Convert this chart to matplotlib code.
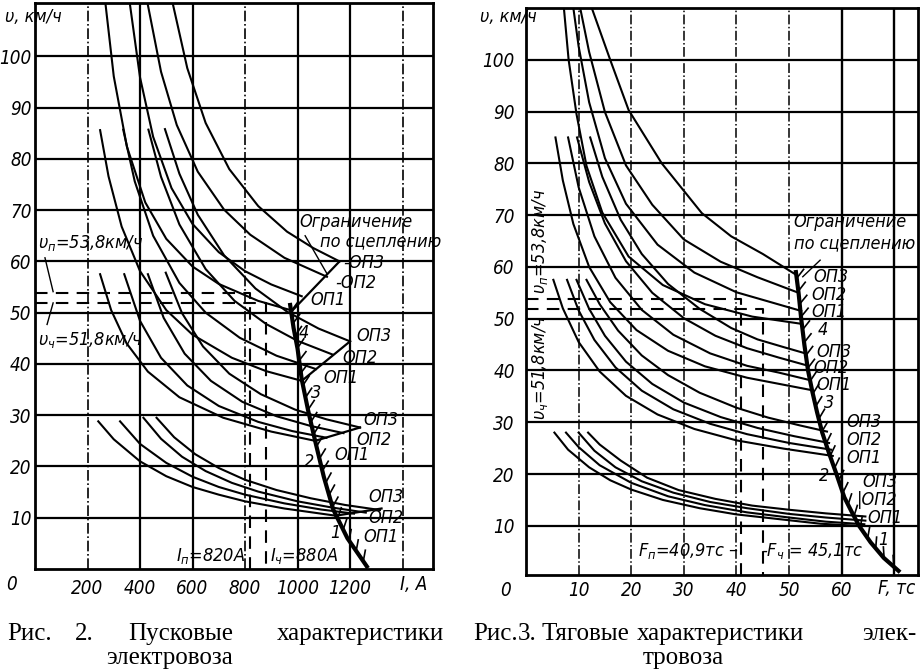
import matplotlib
matplotlib.use("Agg")
import matplotlib.pyplot as plt
from matplotlib import patheffects

plt.rcParams['font.family'] = ['DejaVu Sans']
plt.rcParams['font.stretch'] = 'condensed'
plt.rcParams['mathtext.fontset'] = 'dejavusans'

# ---------------- Fig. 2: starting characteristics v(I) ----------------
# group 4 (full field, OP1, OP2, OP3)
I4 = [[269, 300, 350, 420, 500, 600, 700, 850, 980],
      [362, 400, 450, 520, 600, 700, 800, 900, 1016],
      [430, 480, 540, 620, 720, 820, 950, 1112],
      [526, 580, 650, 740, 850, 960, 1060, 1160]]
v4 = [[110, 96.1, 82.4, 71.5, 64.4, 59.0, 55.6, 52.3, 50.4],
      [110, 95.9, 84.3, 74.3, 67.3, 61.8, 58.1, 55.5, 53.2],
      [110, 97.0, 86.6, 77.5, 70.1, 65.2, 60.7, 57.0],
      [110, 97.7, 87.0, 78.0, 70.8, 65.8, 62.6, 60.0]]
# group 3
I3 = [[248, 280, 330, 400, 500, 600, 750, 880, 1016],
      [336, 380, 450, 550, 650, 780, 920, 1070],
      [432, 480, 550, 650, 760, 880, 1000, 1135],
      [495, 550, 620, 720, 840, 960, 1080, 1200]]
v3 = [[85.6, 76.6, 66.8, 58.1, 50.5, 45.7, 41.2, 38.6, 36.7],
      [85.7, 75.6, 65.0, 55.8, 50.0, 45.1, 41.6, 39.0],
      [85.7, 76.5, 67.2, 58.5, 52.3, 47.8, 44.5, 41.8],
      [85.8, 77.1, 69.1, 61.2, 54.7, 50.2, 46.9, 44.4]]
# group 2
I2 = [[248, 290, 349, 430, 550, 717, 900, 1067],
      [340, 400, 480, 580, 700, 850, 980, 1110],
      [430, 490, 570, 670, 790, 920, 1050, 1175],
      [498, 560, 640, 740, 860, 990, 1110, 1238]]
v2 = [[57.5, 50.5, 44.0, 38.5, 33.5, 29.5, 26.8, 25.0],
      [57.5, 48.4, 41.2, 35.8, 31.8, 28.7, 26.9, 25.6],
      [57.5, 49.0, 42.0, 36.7, 32.6, 29.8, 27.9, 26.5],
      [57.8, 49.9, 43.4, 38.1, 34.1, 31.1, 29.2, 27.6]]
# group 1
I1 = [[241, 300, 400, 500, 600, 700, 800, 950, 1145],
      [324, 400, 500, 600, 700, 800, 950, 1090, 1215],
      [413, 480, 560, 650, 750, 850, 1000, 1130, 1260],
      [463, 530, 610, 700, 800, 920, 1050, 1180, 1314]]
v1 = [[28.8, 25.3, 21.0, 18.1, 16.0, 14.5, 13.2, 11.8, 10.4],
      [28.8, 24.4, 20.7, 18.0, 16.0, 14.5, 12.8, 11.6, 10.8],
      [29.5, 25.4, 21.9, 19.1, 16.8, 15.1, 13.2, 12.0, 11.0],
      [29.5, 25.7, 22.4, 19.7, 17.4, 15.4, 13.8, 12.5, 11.5]]
# adhesion limit
I_lim = [972, 985, 1000, 1016, 1040, 1067, 1100, 1136, 1190, 1264]
v_lim = [51.5, 47, 43, 37, 31, 25, 18, 11.6, 6, 0.5]
# lines joining the ends of the weakened-field curves
I_tie = [[980, 1160], [1016, 1200], [1067, 1238], [1145, 1320]]
v_tie = [[50.4, 60.0], [36.7, 44.4], [25.0, 27.6], [10.4, 11.8]]
v_p, v_ch = 53.8, 51.8
I_p, I_ch = 820, 880

I_ticks = [200, 400, 600, 800, 1000, 1200]
I_grid = [200, 400, 600, 800, 1000, 1200, 1400]
I_grid_ls = ['-.', '-', '-', '-.', '-', '-', '-.']
v_ticks = [10, 20, 30, 40, 50, 60, 70, 80, 90, 100]

# ---------------- Fig. 3: traction characteristics v(F) ----------------
F4 = [[7.2, 8.1, 9.6, 11.5, 14.5, 19.5, 26, 34, 43, 52.4],
      [9.0, 10, 12, 15, 19, 25, 32, 40, 52.3],
      [10.3, 12, 15, 19, 24, 30, 37, 44, 51.8],
      [12.5, 16, 19.5, 25.8, 33.4, 39, 45, 51.3]]
w4 = [[110, 100, 89.5, 79.5, 70.5, 62, 56.5, 52.8, 50.4, 49.0],
      [110, 102.6, 91.8, 81.0, 72.2, 64.3, 58.9, 55.1, 51.5],
      [110, 101.5, 89.9, 79.6, 72.0, 65.3, 61.0, 58.0, 55.0],
      [110, 100, 90.3, 80.0, 70.4, 65.9, 62.5, 58.5]]
F3 = [[5.6, 7, 9, 12, 16, 21, 27, 34, 42, 54.3],
      [8, 10, 13, 17, 22, 28, 35, 42, 48, 53.7],
      [9.7, 12, 15, 19, 24, 30, 36, 42, 48, 53.3],
      [12.2, 14.5, 18, 22, 27, 33, 39, 44, 49, 53.1]]
w3 = [[85, 76.7, 68.3, 60.0, 53.2, 47.8, 43.8, 40.8, 38.6, 36.2],
      [85, 75.4, 65.9, 57.9, 51.7, 46.9, 43.3, 40.9, 39.6, 38.2],
      [85, 76.4, 68.4, 61.1, 55.0, 50.1, 46.7, 44.3, 42.5, 41.0],
      [85, 77.4, 69.1, 62.5, 56.7, 51.9, 48.2, 46.0, 44.5, 43.3]]
F2 = [[5.2, 7, 10, 14, 19, 25, 32, 40, 49, 58.3],
      [7.8, 10, 13, 17, 22, 28, 35, 42, 50, 58],
      [9.6, 12, 15, 19, 24, 30, 37, 44, 51, 57.6],
      [11.5, 14, 17.5, 22, 27, 33, 40, 46, 52, 57.2]]
w2 = [[57.5, 52.0, 45.5, 39.8, 35.1, 31.5, 28.7, 26.5, 24.9, 23.5],
      [57.5, 51.6, 45.9, 40.6, 36.1, 32.5, 29.7, 27.7, 26.0, 24.7],
      [57.5, 51.9, 46.7, 41.7, 37.4, 33.8, 31.0, 28.9, 27.3, 26.0],
      [57.5, 52.8, 47.7, 42.9, 39.1, 35.7, 32.8, 30.9, 29.4, 28.2]]
F1 = [[5.4, 8, 12, 16, 20, 26, 33, 40, 48, 56, 63],
      [7.6, 10, 14, 20, 27, 34, 42, 50, 57, 64.3],
      [10, 13, 17, 22, 28, 35, 42, 50, 57, 64.5],
      [11.8, 14, 18, 23, 29, 36, 43, 50, 57, 64.5]]
w1 = [[28, 24.7, 21.3, 18.8, 17.0, 15.0, 13.4, 12.2, 11.3, 10.4, 10.0],
      [28, 25.2, 21.7, 18.3, 15.7, 14.0, 12.6, 11.6, 10.8, 10.3],
      [28, 24.5, 21.3, 18.6, 16.4, 14.6, 13.4, 12.3, 11.6, 11.0],
      [28, 25.7, 22.6, 19.3, 16.9, 15.2, 13.9, 13.1, 12.4, 11.8]]
F_lim = [51.3, 51.8, 52.3, 52.9, 53.6, 54.4, 55.3, 56.3, 57.6, 59, 60.5, 62, 63.3, 65.5, 68, 70.8]
w_lim = [59, 55, 50, 45, 40, 36, 32, 28, 24, 20, 15.5, 12.5, 10, 6.8, 3.8, 1.3]
F_p, F_ch = 40.9, 45.1

F_ticks = [10, 20, 30, 40, 50, 60]
F_grid = [10, 20, 30, 40, 50, 60, 70]
F_grid_ls = ['-.', '-.', '-.', '-.', '-.', '-', '-']

ital = dict(style='italic', fontsize=13)
tickf = dict(style='italic', fontsize=13.5)

fig = plt.figure(figsize=(9.23, 6.70), dpi=100)
ax1 = fig.add_axes([35 / 923, 101 / 670, 398 / 923, 566 / 670])
ax2 = fig.add_axes([526 / 923, 95 / 670, 392 / 923, 567 / 670])

hatch = [patheffects.withTickedStroke(angle=135, spacing=9, length=0.9, linewidth=1.2)]

# ---- left panel ----
ax1.set_xlim(0, 1516)
ax1.set_ylim(0, 110.4)
for y in v_ticks:
    ax1.axhline(y, color='k', lw=1.6, zorder=1)
for x, ls in zip(I_grid, I_grid_ls):
    ax1.axvline(x, color='k', lw=1.6 if ls == '-' else 1.2, ls=ls, zorder=1)
for grp_I, grp_v in [(I4, v4), (I3, v3), (I2, v2), (I1, v1)]:
    for I, v in zip(grp_I, grp_v):
        ax1.plot(I, v, color='k', lw=1.5, zorder=3)
for I, v in zip(I_tie, v_tie):
    ax1.plot(I, v, color='k', lw=1.6, zorder=3)
ax1.plot(I_lim, v_lim, color='k', lw=3, zorder=4, path_effects=hatch)
ax1.plot([0, I_p, I_p], [v_p, v_p, 0], color='k', ls=(0, (6, 4)), lw=1.5, zorder=2)
ax1.plot([0, I_ch, I_ch], [v_ch, v_ch, 0], color='k', ls=(0, (6, 4)), lw=1.5, zorder=2)

ax1.set_xticks(I_ticks)
ax1.set_xticklabels([str(t) for t in I_ticks], **tickf)
ax1.set_yticks(v_ticks)
ax1.set_yticklabels([str(t) for t in v_ticks], **tickf)
ax1.tick_params(axis='x', length=0, pad=7)
ax1.tick_params(axis='y', length=0, pad=2.5)

ax1.text(1005, 67.7, 'Ограничение', ha='left', va='center', **ital)
ax1.text(1085, 64.0, 'по сцеплению', ha='left', va='center', **ital)
ax1.plot([1029, 1111], [65.0, 57.7], color='k', lw=1.0)
for x, y, s in [(1175, 59.7, '-ОП3'), (1145, 55.8, '-ОП2'), (1050, 52.5, 'ОП1'),
                (1225, 45.5, 'ОП3'), (1170, 41.2, 'ОП2'), (1100, 37.3, 'ОП1'),
                (1250, 29.1, 'ОП3'), (1225, 25.2, 'ОП2'), (1140, 22.3, 'ОП1'),
                (1270, 14.1, 'ОП3'), (1270, 10.0, 'ОП2'), (1250, 6.3, 'ОП1')]:
    ax1.text(x, y, s, ha='left', va='center', **ital)
for x, y, s in [(1005, 46.1, '4'), (1050, 34.4, '3'), (1025, 20.8, '2'), (1125, 7.1, '1')]:
    ax1.text(x, y, s, ha='left', va='center', **ital)
ax1.text(12, 63.6, '$υ_п$=53,8км/ч', ha='left', va='center', **ital)
ax1.plot([38, 69], [60.7, 54.1], color='k', lw=1.0)
ax1.text(12, 44.7, '$υ_ч$=51,8км/ч', ha='left', va='center', **ital)
ax1.plot([46, 69], [47.7, 51.9], color='k', lw=1.0)
ax1.text(800, 2.6, '$I_п$=820А', ha='right', va='center', **ital)
ax1.text(895, 2.6, '$I_ч$=880А', ha='left', va='center', **ital)

# ---- right panel ----
ax2.set_xlim(0, 74.5)
ax2.set_ylim(0.5, 110)
for y in v_ticks:
    ax2.axhline(y, color='k', lw=1.6, zorder=1)
for x, ls in zip(F_grid, F_grid_ls):
    ax2.axvline(x, color='k', lw=1.7 if ls == '-' else 1.1, ls=ls, zorder=1)
for grp_F, grp_w in [(F4, w4), (F3, w3), (F2, w2), (F1, w1)]:
    for F, w in zip(grp_F, grp_w):
        ax2.plot(F, w, color='k', lw=1.5, zorder=3)
ax2.plot(F_lim, w_lim, color='k', lw=3, zorder=4, path_effects=hatch)
ax2.plot([0, F_p, F_p], [v_p, v_p, 0], color='k', ls=(0, (6, 4)), lw=1.5, zorder=2)
ax2.plot([0, F_ch, F_ch], [v_ch, v_ch, 0], color='k', ls=(0, (6, 4)), lw=1.5, zorder=2)

ax2.set_xticks(F_ticks)
ax2.set_xticklabels([str(t) for t in F_ticks], **tickf)
ax2.set_yticks(v_ticks)
ax2.set_yticklabels([str(t) for t in v_ticks], **tickf)
ax2.tick_params(axis='x', length=0, pad=4)
ax2.tick_params(axis='y', length=0, pad=8)

ax2.text(50.9, 68.7, 'Ограничение', ha='left', va='center', **ital)
ax2.text(50.9, 64.6, 'по сцеплению', ha='left', va='center', **ital)
ax2.plot([55.9, 52.6], [61.3, 58.1], color='k', lw=1.0)
for x, y, s in [(54.6, 58.0, 'ОП3'), (54.2, 54.6, 'ОП2'), (54.2, 51.3, 'ОП1'),
                (55.2, 43.6, 'ОП3'), (54.7, 40.5, 'ОП2'), (55.2, 37.2, 'ОП1'),
                (60.8, 30.0, 'ОП3'), (60.8, 26.6, 'ОП2'), (60.8, 23.1, 'ОП1'),
                (64.0, 18.5, 'ОП3'), (62.8, 15.0, '|ОП2'), (64.8, 11.5, 'ОП1')]:
    ax2.text(x, y, s, ha='left', va='center', **ital)
for x, y, s in [(55.5, 47.8, '4'), (56.6, 33.7, '3'), (55.7, 19.6, '2'), (67.0, 7.3, '1')]:
    ax2.text(x, y, s, ha='left', va='center', **ital)
ax2.text(2.7, 65.0, '$υ_п$=53,8км/ч', ha='center', va='center', rotation=90, **ital)
ax2.text(2.7, 40.5, '$υ_ч$=51,8км/ч', ha='center', va='center', rotation=90, **ital)
ax2.text(40.4, 5.2, '$F_п$=40,9тс –', ha='right', va='center', **ital)
ax2.text(44.6, 5.2, '-$F_ч$ = 45,1тс', ha='left', va='center', **ital)

for ax in (ax1, ax2):
    for sp in ax.spines.values():
        sp.set_linewidth(2)

fig.text(5 / 923, 1 - 17 / 670, 'υ, км/ч', ha='left', va='center', **ital)
fig.text(480 / 923, 1 - 17 / 670, 'υ, км/ч', ha='left', va='center', **ital)
fig.text(12 / 923, 1 - 585 / 670, '0', ha='center', va='center', **tickf)
fig.text(506 / 923, 1 - 590 / 670, '0', ha='center', va='center', **tickf)
fig.text(400 / 923, 1 - 585 / 670, 'I, A', ha='left', va='center', **tickf)
fig.text(878 / 923, 1 - 589 / 670, 'F, тс', ha='left', va='center', **tickf)

cap = dict(family=['Liberation Serif', 'DejaVu Serif'], stretch='normal', fontsize=18, va='center')
y1, y2 = 1 - 634 / 670, 1 - 658 / 670
for x, s in [(7, 'Рис.'), (75, '2.'), (128, 'Пусковые'), (473, 'Рис.'), (518, '3.'), (541, 'Тяговые')]:
    fig.text(x / 923, y1, s, ha='left', **cap)
fig.text(360 / 923, y1, 'характеристики', ha='center', **cap)
fig.text(720 / 923, y1, 'характеристики', ha='center', **cap)
fig.text(916 / 923, y1, 'элек-', ha='right', **cap)
fig.text(170 / 923, y2, 'электровоза', ha='center', **cap)
fig.text(683 / 923, y2, 'тровоза', ha='center', **cap)

fig.savefig('out.png', dpi=100, facecolor='white')
